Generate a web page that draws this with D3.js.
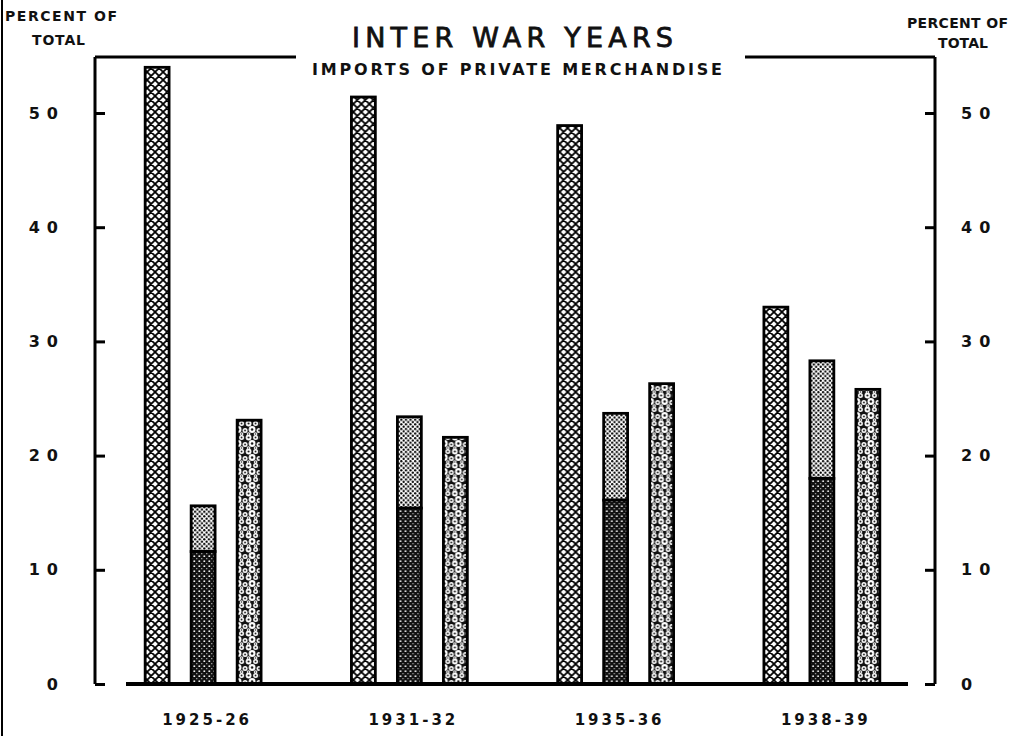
<!DOCTYPE html>
<html>
<head>
<meta charset="utf-8">
<script src="https://cdn.jsdelivr.net/npm/d3@7"></script>
<style>
  body { margin: 0; background: #fff; }
  text { font-family: "DejaVu Sans", sans-serif; fill: #111; }
</style>
</head>
<body>
<div id="chart_div"></div>
<script>
// chart values
var periods = ["1925-26", "1931-32", "1935-36", "1938-39"];
var seriesNames = ["crosshatch", "stipple", "circles"];
var crosshatchValues = [54.0, 51.4, 48.9, 33.0];
var stippleTotals = [15.6, 23.4, 23.7, 28.3];
var stippleLower = [11.6, 15.4, 16.1, 18.0];
var circleValues = [23.1, 21.6, 26.3, 25.8];
var tickValues = [0, 10, 20, 30, 40, 50];

var width = 1021, height = 736;
var axisLeftX = 95, axisRightX = 935, frameTop = 57;

var svg = d3.select("#chart_div")
  .append("svg")
  .attr("width", width)
  .attr("height", height);

// patterns
var defs = svg.append("defs");

var ph = defs.append("pattern")
  .attr("id", "hatch")
  .attr("patternUnits", "userSpaceOnUse")
  .attr("width", 8).attr("height", 8);
ph.append("rect").attr("width", 8).attr("height", 8).attr("fill", "#fff");
ph.append("path").attr("d", "M0,0L8,8M8,0L0,8M-1,7L1,9M7,-1L9,1M-1,1L1,-1M7,9L9,7")
  .attr("stroke", "#000").attr("stroke-width", 1.8);

var pd = defs.append("pattern")
  .attr("id", "dots")
  .attr("patternUnits", "userSpaceOnUse")
  .attr("width", 4.6).attr("height", 4.6);
pd.append("rect").attr("width", 4.6).attr("height", 4.6).attr("fill", "#fff");
pd.append("circle").attr("cx", 1.15).attr("cy", 1.15).attr("r", 1.15).attr("fill", "#000");
pd.append("circle").attr("cx", 3.45).attr("cy", 3.45).attr("r", 1.15).attr("fill", "#000");

var pk = defs.append("pattern")
  .attr("id", "darkdots")
  .attr("patternUnits", "userSpaceOnUse")
  .attr("width", 5).attr("height", 5);
pk.append("rect").attr("width", 5).attr("height", 5).attr("fill", "#111");
pk.append("circle").attr("cx", 1.2).attr("cy", 1.2).attr("r", 0.9).attr("fill", "#fff");
pk.append("circle").attr("cx", 3.7).attr("cy", 3.7).attr("r", 0.6).attr("fill", "#ddd");

var pc = defs.append("pattern")
  .attr("id", "rings")
  .attr("patternUnits", "userSpaceOnUse")
  .attr("width", 14).attr("height", 14);
pc.append("rect").attr("width", 14).attr("height", 14).attr("fill", "#111");
var ringSpots = [[3.5, 3.5, 2.9], [10.5, 3.5, 2.5], [7, 9.5, 3.4], [0, 10.5, 2.5], [14, 10.5, 2.5], [3.5, 14, 1.8], [10.5, 14, 1.8], [3.5, 0, 1.8], [10.5, 0, 1.8]];
ringSpots.forEach(function(s) {
  pc.append("circle").attr("cx", s[0]).attr("cy", s[1]).attr("r", s[2]).attr("fill", "#fff");
  pc.append("circle").attr("cx", s[0]).attr("cy", s[1]).attr("r", s[2] * 0.36).attr("fill", "#111");
});

// scales
var x0 = d3.scaleBand()
  .domain(periods)
  .range([100, 925]);

var x1 = d3.scaleBand()
  .domain(seriesNames)
  .range([-69, 69])
  .paddingInner(0.48)
  .paddingOuter(0.24);

var y = d3.scaleLinear()
  .domain([0, 50])
  .range([684, 113]);

// page edge line of the scan
svg.append("line")
  .attr("x1", 2).attr("x2", 2).attr("y1", 0).attr("y2", height)
  .attr("stroke", "#000").attr("stroke-width", 2);

// left axis, ticks pointing inward
var gl = svg.append("g")
  .attr("transform", "translate(" + axisLeftX + ",0)")
  .call(d3.axisLeft(y).tickValues(tickValues).tickSize(-10).tickSizeOuter(0).tickFormat(d3.format("d")));
gl.select(".domain").attr("d", "M0," + y(0) + "V" + frameTop).attr("stroke-width", 3);
gl.selectAll(".tick line").attr("stroke-width", 3);
gl.selectAll(".tick text")
  .attr("x", -30)
  .attr("text-anchor", "end")
  .style("font-size", "16px")
  .style("font-weight", "bold")
  .style("letter-spacing", "7px");

// right axis
var gr = svg.append("g")
  .attr("transform", "translate(" + axisRightX + ",0)")
  .call(d3.axisRight(y).tickValues(tickValues).tickSize(-10).tickSizeOuter(0).tickFormat(d3.format("d")));
gr.select(".domain").attr("d", "M0," + y(0) + "V" + frameTop).attr("stroke-width", 3);
gr.selectAll(".tick text")
  .attr("x", 26)
  .attr("text-anchor", "start")
  .style("font-size", "16px")
  .style("font-weight", "bold")
  .style("letter-spacing", "7px");
gr.selectAll(".tick line").attr("stroke-width", 3);

// top frame, broken for the titles
svg.append("path")
  .attr("d", "M" + axisLeftX + "," + frameTop + "H296M745," + frameTop + "H" + axisRightX)
  .attr("stroke", "#000").attr("stroke-width", 3).attr("fill", "none");

// bars
var groups = svg.selectAll(".period")
  .data(periods)
  .enter()
  .append("g")
  .attr("class", "period")
  .attr("transform", function(d) { return "translate(" + (x0(d) + x0.bandwidth() / 2) + ",0)"; });

function bar(sel, name, top, bottom, fill) {
  sel.append("rect")
    .attr("x", x1(name))
    .attr("width", x1.bandwidth())
    .attr("y", top)
    .attr("height", bottom - top)
    .attr("fill", fill)
    .attr("stroke", "#000")
    .attr("stroke-width", 2.8);
}

groups.each(function(d, i) {
  var g = d3.select(this);
  bar(g, "crosshatch", y(crosshatchValues[i]), y(0), "url(#hatch)");
  bar(g, "stipple", y(stippleTotals[i]), y(stippleLower[i]), "url(#dots)");
  bar(g, "stipple", y(stippleLower[i]), y(0), "url(#darkdots)");
  bar(g, "circles", y(circleValues[i]), y(0), "url(#rings)");
});

// baseline
svg.append("line")
  .attr("x1", 126).attr("x2", 908)
  .attr("y1", y(0)).attr("y2", y(0))
  .attr("stroke", "#000").attr("stroke-width", 4);

// period labels
svg.selectAll(".plabel")
  .data(periods)
  .enter()
  .append("text")
  .attr("class", "plabel")
  .attr("x", function(d) { return x0(d) + x0.bandwidth() / 2 + 4; })
  .attr("y", 725)
  .attr("text-anchor", "middle")
  .style("font-size", "15px")
  .style("font-weight", "bold")
  .style("letter-spacing", "3px")
  .text(function(d) { return d; });

// titles
svg.append("text")
  .attr("x", 352).attr("y", 47)
  .attr("textLength", 321).attr("lengthAdjust", "spacing")
  .style("font-size", "27px")
  .style("stroke", "#111")
  .style("stroke-width", "0.8px")
  .text("INTER WAR YEARS");

svg.append("text")
  .attr("x", 312).attr("y", 75)
  .attr("textLength", 410).attr("lengthAdjust", "spacing")
  .style("font-size", "16px")
  .style("font-weight", "bold")
  .text("IMPORTS OF PRIVATE MERCHANDISE");

// axis captions
svg.append("text").attr("x", 5).attr("y", 21)
  .attr("textLength", 112).attr("lengthAdjust", "spacing")
  .style("font-size", "14px").style("font-weight", "bold")
  .text("PERCENT OF");
svg.append("text").attr("x", 32).attr("y", 45)
  .attr("textLength", 53).attr("lengthAdjust", "spacing")
  .style("font-size", "14px").style("font-weight", "bold")
  .text("TOTAL");
svg.append("text").attr("x", 907).attr("y", 28)
  .attr("textLength", 101).attr("lengthAdjust", "spacing")
  .style("font-size", "14px").style("font-weight", "bold")
  .text("PERCENT OF");
svg.append("text").attr("x", 938).attr("y", 48)
  .attr("textLength", 50).attr("lengthAdjust", "spacing")
  .style("font-size", "14px").style("font-weight", "bold")
  .text("TOTAL");
</script>
</body>
</html>
